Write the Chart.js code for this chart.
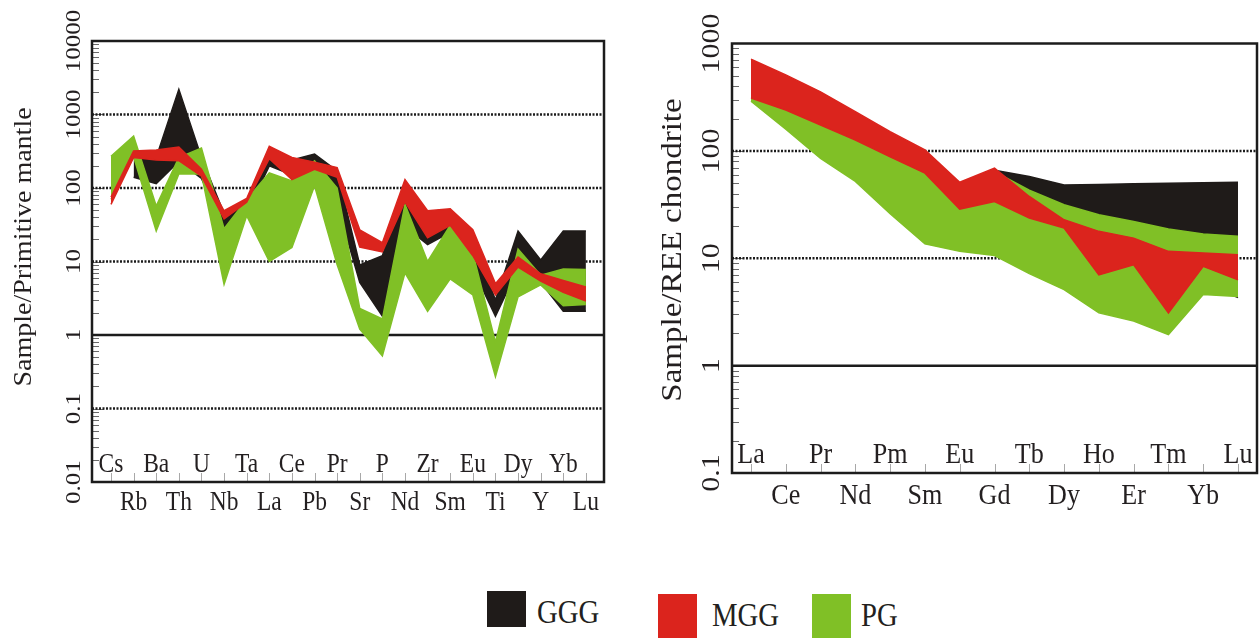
<!DOCTYPE html>
<html>
<head>
<meta charset="utf-8">
<script src="https://cdn.jsdelivr.net/npm/chart.js@4.4.0/dist/chart.umd.min.js"></script>
<style>
  body { margin: 0; background: #fff; width: 1260px; height: 638px; overflow: hidden; position: relative; font-family: "Liberation Serif", serif; color: #231f20; }
  #spider-box { position: absolute; left: 0; top: 0; }
  #ree-box { position: absolute; left: 630px; top: 0; }
  .swatch { position: absolute; width: 39px; }
  .key { position: absolute; font-size: 33px; line-height: 33px; transform: scaleX(0.87); transform-origin: left top; white-space: nowrap; }
</style>
</head>
<body>
<div id="spider-box"><canvas id="spider" width="620" height="540"></canvas></div>
<div id="ree-box"><canvas id="ree" width="630" height="540"></canvas></div>

<div class="swatch" style="left:487px;top:591px;height:36px;background:#1f1b19"></div>
<div class="key" style="left:537px;top:596px">GGG</div>
<div class="swatch" style="left:658px;top:594px;height:44px;background:#db241d"></div>
<div class="key" style="left:712px;top:599px">MGG</div>
<div class="swatch" style="left:812px;top:594px;height:44px;background:#80c026"></div>
<div class="key" style="left:861px;top:599px">PG</div>

<script>
const BLACK = "#1f1b19";
const RED = "#db241d";
const GREEN = "#80c026";
const INK = "#231f20";

// Primitive-mantle normalised spider diagram
const spiderElements = ["Cs","Rb","Ba","Th","U","Nb","Ta","La","Ce","Pb","Pr","Sr","P","Nd","Zr","Sm","Eu","Ti","Dy","Y","Yb","Lu"];
const gggSpiderLow  = [null, 140, 115, 230, 135, 28, 45, 200, 150, 180, 60, 5.2, 1.8, 30, 17, 25, 8, 1.8, 8, 5.2, 2.1, 2.1];
const gggSpiderHigh = [null, 260, 260, 2200, 260, 45, 65, 330, 240, 290, 170, 9, 12, 100, 40, 45, 20, 3, 26, 10.5, 26, 26];
const mggSpiderLow  = [60, 260, 240, 235, 145, 38, 64, 250, 130, 180, 140, 15.7, 13.5, 65, 21, 31, 12, 3.5, 8.4, 5.4, 3.8, 2.9];
const mggSpiderHigh = [75, 320, 330, 360, 180, 49, 72, 370, 260, 225, 190, 27, 18, 130, 49, 52, 27, 5, 11.5, 6.8, 5.5, 4.5];
const pgSpiderLow   = [70, 265, 26, 155, 155, 4.9, 42, 10, 15.5, 107, 9, 1.2, 0.52, 7, 2.1, 5.8, 3.5, 0.27, 3.3, 4.8, 2.5, 2.6];
const pgSpiderHigh  = [270, 510, 57, 260, 350, 28, 70, 160, 125, 235, 100, 2.3, 1.65, 60, 10, 31, 13, 0.8, 14.8, 6.5, 7.9, 7.8];
const spiderTicks = [0.01, 0.1, 1, 10, 100, 1000, 10000];

// Chondrite normalised REE pattern
const reeElements = ["La","Ce","Pr","Nd","Pm","Sm","Eu","Gd","Tb","Dy","Ho","Er","Tm","Yb","Lu"];
const gggReeLow  = [null, null, null, null, null, null, null, 60, 20, 15, 12, 10, 8, 6, 4.3];
const gggReeHigh = [null, null, null, null, null, null, null, 66, 57.7, 48, 48.5, 49.5, 50, 50.5, 51];
const mggReeLow  = [310, 240, 174, 126, 88, 62, 28.7, 33.7, 23.7, 19.1, 7.0, 8.7, 3.1, 8.4, 6.3];
const mggReeHigh = [713, 510, 355, 232, 151, 102, 51, 69, 37.6, 22.8, 17.8, 15.4, 11.6, 11.2, 10.8];
const pgReeLow   = [290, 159, 85, 52, 26, 13.6, 11.6, 10.6, 7.2, 5.1, 3.1, 2.6, 1.94, 4.6, 4.4];
const pgReeHigh  = [320, 250, 180, 130, 92, 66, 40, 64, 43, 31.5, 25.4, 22, 18.7, 16.8, 16];
const reeTicks = [0.1, 1, 10, 100, 1000];

function pts(values) {
  return values.map((v, i) => ({ x: i, y: v })).filter(p => p.y !== null);
}

// upper edge + lower edge filled back to it
function band(low, high, color, order) {
  const common = { borderColor: color, backgroundColor: color, borderWidth: 1.5, pointRadius: 0, tension: 0, order };
  return [
    { ...common, data: pts(high), fill: false },
    { ...common, data: pts(low), fill: "-1" }
  ];
}

function squeezeText(ctx, str, x, y, angle, size, baseline) {
  ctx.save();
  ctx.translate(x, y);
  ctx.scale(0.87, 1);
  ctx.rotate(angle);
  ctx.font = size + 'px "Liberation Serif"';
  ctx.textAlign = "center";
  ctx.textBaseline = baseline;
  ctx.fillStyle = INK;
  ctx.fillText(str, 0, 0);
  ctx.restore();
}

const frame = {
  id: "frame",
  beforeDatasetsDraw(chart, args, o) {
    const { ctx, chartArea: a } = chart;
    const x = chart.scales.x, y = chart.scales.y;
    ctx.save();
    // log ticks on the inside of the left edge
    ctx.strokeStyle = "#6a6a6a";
    ctx.lineWidth = 1;
    const e0 = Math.round(Math.log10(y.min)), e1 = Math.round(Math.log10(y.max));
    for (let e = e0; e < e1; e++) {
      for (let m = 1; m < 10; m++) {
        const py = Math.round(y.getPixelForValue(m * Math.pow(10, e))) + 0.5;
        ctx.beginPath();
        ctx.moveTo(a.left, py);
        ctx.lineTo(a.left + (m === 1 ? 12 : 7), py);
        ctx.stroke();
      }
    }
    // element ticks on the bottom edge
    ctx.strokeStyle = "#a8a8a8";
    o.labels.forEach((_, i) => {
      const px = Math.round(x.getPixelForValue(i)) + 0.5;
      ctx.beginPath();
      ctx.moveTo(px, a.bottom);
      ctx.lineTo(px, a.bottom - 9);
      ctx.stroke();
    });
    // reference lines
    ctx.strokeStyle = "#1c1c1c";
    ctx.lineWidth = 2.5;
    ctx.setLineDash([2, 1.5]);
    o.dotted.forEach(v => {
      const py = y.getPixelForValue(v);
      ctx.beginPath(); ctx.moveTo(a.left, py); ctx.lineTo(a.right, py); ctx.stroke();
    });
    ctx.setLineDash([]);
    o.solid.forEach(v => {
      const py = y.getPixelForValue(v);
      ctx.beginPath(); ctx.moveTo(a.left, py); ctx.lineTo(a.right, py); ctx.stroke();
    });
    ctx.restore();
  },
  afterDraw(chart, args, o) {
    const { ctx, chartArea: a } = chart;
    const x = chart.scales.x, y = chart.scales.y;
    ctx.save();
    ctx.strokeStyle = "#1c1c1c";
    ctx.lineWidth = 2.5;
    ctx.strokeRect(a.left, a.top, a.right - a.left, a.bottom - a.top);
    ctx.restore();

    o.ticks.forEach(v => {
      squeezeText(ctx, String(v), o.tickX, y.getPixelForValue(v), -Math.PI / 2, o.tickSize, "middle");
    });
    squeezeText(ctx, o.title, o.titleX, o.titleY, -Math.PI / 2, o.titleSize, "middle");

    o.labels.forEach((lab, i) => {
      const base = i % 2 === 0 ? o.upperBase : o.lowerBase;
      squeezeText(ctx, lab, x.getPixelForValue(i), base, 0, o.labelSize, "alphabetic");
    });
  }
};

function makeChart(id, datasets, xMax, yMin, yMax, padding, frameOpts, xMin) {
  return new Chart(document.getElementById(id), {
    type: "line",
    data: { datasets },
    options: {
      responsive: false,
      animation: false,
      layout: { padding },
      plugins: { legend: { display: false }, tooltip: { enabled: false }, frame: frameOpts },
      scales: {
        x: { type: "linear", min: xMin, max: xMax, display: false },
        y: { type: "logarithmic", min: yMin, max: yMax, display: false }
      }
    },
    plugins: [frame]
  });
}

makeChart("spider",
  [
    ...band(gggSpiderLow, gggSpiderHigh, BLACK, 3),
    ...band(pgSpiderLow, pgSpiderHigh, GREEN, 2),
    ...band(mggSpiderLow, mggSpiderHigh, RED, 1)
  ],
  21.8, 0.01, 10000,
  { left: 92, top: 41, right: 16, bottom: 58 },
  {
    labels: spiderElements, ticks: spiderTicks,
    dotted: [1000, 100, 10, 0.1], solid: [1],
    title: "Sample/Primitive mantle", titleX: 25, titleY: 247, titleSize: 28,
    tickX: 74, tickSize: 25, labelSize: 27, upperBase: 472, lowerBase: 510
  },
  -0.84
);

makeChart("ree",
  [
    ...band(gggReeLow, gggReeHigh, BLACK, 3),
    ...band(pgReeLow, pgReeHigh, GREEN, 2),
    ...band(mggReeLow, mggReeHigh, RED, 1)
  ],
  14.546, 0.1, 1000,
  { left: 102, top: 43.5, right: 3, bottom: 67 },
  {
    labels: reeElements, ticks: reeTicks,
    dotted: [100, 10], solid: [1],
    title: "Sample/REE chondrite", titleX: 43, titleY: 250, titleSize: 33,
    tickX: 82, tickSize: 30, labelSize: 30, upperBase: 463, lowerBase: 504
  },
  -0.546
);
</script>
</body>
</html>
